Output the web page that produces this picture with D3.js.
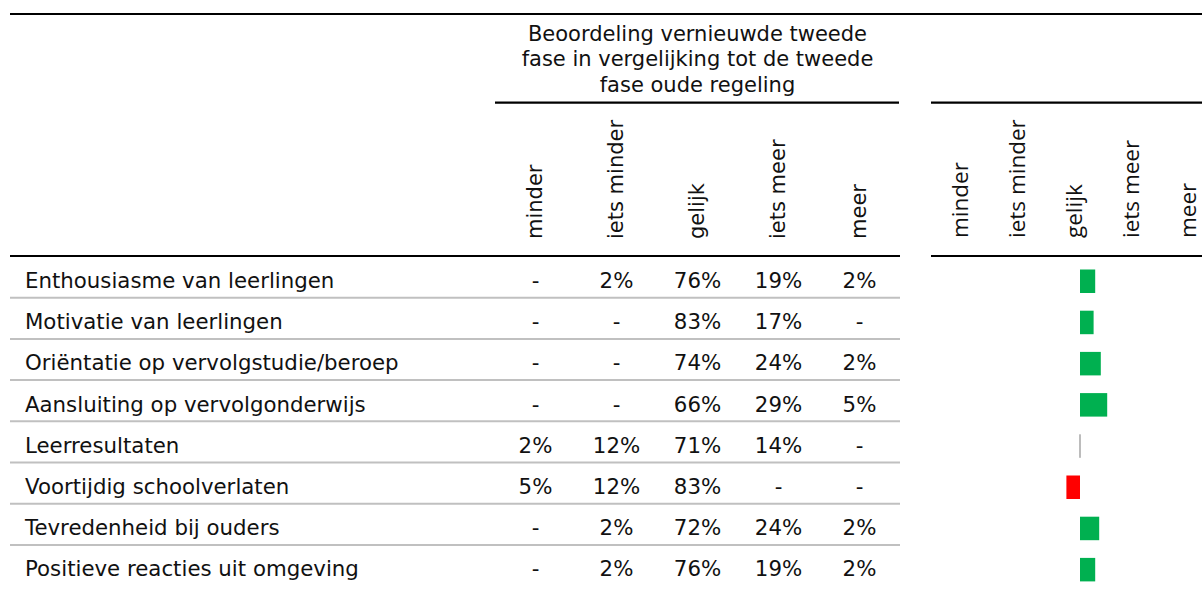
<!DOCTYPE html>
<html>

<head>
  <title>Beoordeling tweede fase</title>
  <script type="text/javascript" src="https://cdn.jsdelivr.net/npm/d3@7"></script>
  <style>
    body { margin: 0; background: #fff; }
    svg { display: block; }
  </style>
</head>

<body>
  <script type="text/javascript">
    // Canvas
    const w = 1202;
    const h = 590;

    // Data
    const categories = [
      "Enthousiasme van leerlingen",
      "Motivatie van leerlingen",
      "Oriëntatie op vervolgstudie/beroep",
      "Aansluiting op vervolgonderwijs",
      "Leerresultaten",
      "Voortijdig schoolverlaten",
      "Tevredenheid bij ouders",
      "Positieve reacties uit omgeving"
    ];
    const columns = ["minder", "iets minder", "gelijk", "iets meer", "meer"];
    const titleLines = [
      "Beoordeling vernieuwde tweede",
      "fase in vergelijking tot de tweede",
      "fase oude regeling"
    ];
    // null = "-"
    const minder     = [null, null, null, null, 2, 5, null, null];
    const ietsMinder = [2, null, null, null, 12, 12, 2, 2];
    const gelijk     = [76, 83, 74, 66, 71, 83, 72, 76];
    const ietsMeer   = [19, 17, 24, 29, 14, null, 24, 19];
    const meer       = [2, null, 2, 5, null, null, 2, 2];

    const valueCols = [minder, ietsMinder, gelijk, ietsMeer, meer];

    // netto score: meer kant min minder kant
    const net = categories.map(function (c, i) {
      return (ietsMeer[i] || 0) + (meer[i] || 0) - (minder[i] || 0) - (ietsMinder[i] || 0);
    });

    const font = "'DejaVu Sans', Verdana, sans-serif";

    // Scales
    const yScale = d3.scaleBand().domain(categories).range([256, 256 + 8 * 41.2]);
    const xLeft = d3.scaleBand().domain(columns).range([495, 900]);
    const xRight = d3.scaleBand().domain(columns).range([931, 1216]);
    const xNet = d3.scaleLinear().domain([-100, 100]).range([1000, 1160]);

    const svg = d3.select("body")
      .append("svg")
      .attr("width", w)
      .attr("height", h);

    // Titel boven de kolommen
    svg.selectAll("text.title")
      .data(titleLines)
      .enter()
      .append("text")
      .attr("class", "title")
      .attr("x", 697.5)
      .attr("y", function (d, i) { return 40.5 + i * 25.6; })
      .attr("text-anchor", "middle")
      .style("font-family", font)
      .style("font-size", "21px")
      .attr("fill", "#111")
      .text(function (d) { return d; });

    // Kolomkoppen links (gedraaid)
    svg.selectAll("text.colL")
      .data(columns)
      .enter()
      .append("text")
      .attr("class", "colL")
      .attr("transform", function (d) {
        return "translate(" + (xLeft(d) + xLeft.bandwidth() / 2 + 6) + ",239) rotate(-90)";
      })
      .style("font-family", font)
      .style("font-size", "21px")
      .attr("fill", "#111")
      .text(function (d) { return d; });

    // Kolomkoppen rechts (gedraaid)
    svg.selectAll("text.colR")
      .data(columns)
      .enter()
      .append("text")
      .attr("class", "colR")
      .attr("transform", function (d) {
        return "translate(" + (xRight(d) + xRight.bandwidth() / 2 + 8.5) + ",238) rotate(-90)";
      })
      .style("font-family", "'Open Sans', sans-serif")
      .style("font-size", "22.5px")
      .attr("fill", "#111")
      .text(function (d) { return d; });

    // Lijnen in de kop
    const lines = [
      { x1: 10, x2: 1202, y: 14 },
      { x1: 495, x2: 899, y: 102.7 },
      { x1: 931, x2: 1202, y: 102.7 },
      { x1: 10, x2: 900, y: 256 },
      { x1: 931, x2: 1202, y: 256 }
    ];
    svg.selectAll("line.head")
      .data(lines)
      .enter()
      .append("line")
      .attr("class", "head")
      .attr("x1", function (d) { return d.x1; })
      .attr("x2", function (d) { return d.x2; })
      .attr("y1", function (d) { return d.y; })
      .attr("y2", function (d) { return d.y; })
      .attr("stroke", "#000")
      .attr("stroke-width", 2.2);

    // Scheidingslijnen tussen rijen
    svg.selectAll("line.sep")
      .data(categories.slice(1))
      .enter()
      .append("line")
      .attr("class", "sep")
      .attr("x1", 10)
      .attr("x2", 900)
      .attr("y1", function (d) { return yScale(d) + 0.5; })
      .attr("y2", function (d) { return yScale(d) + 0.5; })
      .attr("stroke", "#c0c0c0")
      .attr("stroke-width", 2);

    // Rij-labels
    svg.selectAll("text.label")
      .data(categories)
      .enter()
      .append("text")
      .attr("class", "label")
      .attr("x", 25)
      .attr("y", function (d) { return yScale(d) + 32; })
      .style("font-family", font)
      .style("font-size", "21.3px")
      .attr("fill", "#111")
      .text(function (d) { return d; });

    // Percentages
    valueCols.forEach(function (vals, j) {
      svg.selectAll("text.val" + j)
        .data(vals)
        .enter()
        .append("text")
        .attr("class", "val" + j)
        .attr("x", xLeft(columns[j]) + xLeft.bandwidth() / 2)
        .attr("y", function (d, i) { return yScale(categories[i]) + 32; })
        .attr("text-anchor", "middle")
        .style("font-family", font)
        .style("font-size", "21.3px")
        .attr("fill", "#111")
        .text(function (d) { return d === null ? "-" : d + "%"; });
    });

    // Netto staafjes
    svg.selectAll("rect.net")
      .data(net)
      .enter()
      .append("rect")
      .attr("class", "net")
      .attr("x", function (d) { return d === 0 ? xNet(0) - 0.75 : Math.min(xNet(0), xNet(d)); })
      .attr("y", function (d, i) { return yScale(categories[i]) + 13.5; })
      .attr("width", function (d) { return d === 0 ? 1.5 : Math.abs(xNet(d) - xNet(0)); })
      .attr("height", 23.5)
      .attr("fill", function (d) {
        if (d > 0) return "#00b050";
        if (d < 0) return "#ff0000";
        return "#a6a6a6";
      });
  </script>
</body>

</html>
